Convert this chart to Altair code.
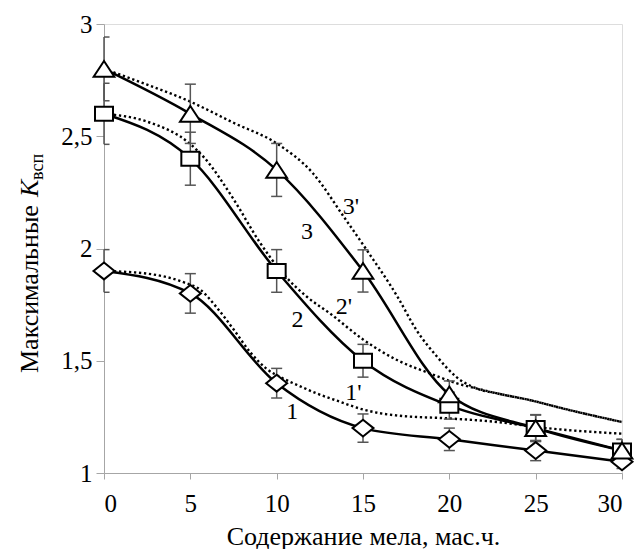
import altair as alt
import pandas as pd

# Chalk content, mass parts
chalk = [0, 5, 10, 15, 20, 25, 30]

# Measured maximal swelling coefficients and error half-widths
k1 = [1.9, 1.8, 1.4, 1.2, 1.15, 1.1, 1.05]
k2 = [2.6, 2.4, 1.9, 1.5, 1.3, 1.2, 1.1]
k3 = [2.8, 2.6, 2.35, 1.9, 1.35, 1.2, 1.1]
err1 = [0.095, 0.088, 0.066, 0.063, 0.05, 0.045, 0.03]
err2 = [0.136, 0.118, 0.095, 0.073, 0.06, 0.058, 0.05]
err3 = [0.142, 0.132, 0.118, 0.094, 0.06, 0.06, 0.05]

# Calculated curves 1', 2', 3'
calc1_x = [0, 2.5, 4.6, 5.6, 6.5, 7.5, 8.5, 9.4, 10.4, 11.4, 12.3, 13.5, 15, 16, 17, 20, 22.8, 25, 30]
calc1_y = [1.9, 1.888, 1.85, 1.815, 1.74, 1.64, 1.535, 1.465, 1.42, 1.385, 1.355, 1.322, 1.283, 1.266, 1.256, 1.243, 1.227, 1.205, 1.175]
calc2_x = [0, 2.5, 5, 5.8, 7.5, 9, 10.4, 11.75, 13.1, 15, 17, 18.9, 20.4, 21.6, 22.8, 24.7, 26.6, 30]
calc2_y = [2.6, 2.565, 2.465, 2.405, 2.22, 2.03, 1.885, 1.785, 1.71, 1.595, 1.502, 1.443, 1.40, 1.376, 1.354, 1.324, 1.287, 1.227]
calc3_x = [0, 2.5, 5, 7.5, 10, 12.1, 13.9, 15.2, 17, 18.1, 19.3, 20.4, 21.6, 22.8, 24.7, 26.6, 30]
calc3_y = [2.8, 2.73, 2.654, 2.56, 2.468, 2.335, 2.14, 1.995, 1.785, 1.636, 1.517, 1.428, 1.376, 1.354, 1.324, 1.287, 1.227]

# Curve labels
label_text = ["1", "1'", "2", "2'", "3", "3'"]
label_x = [10.9, 14.45, 11.2, 13.9, 11.75, 14.3]
label_y = [1.27, 1.355, 1.68, 1.74, 2.075, 2.185]

FONT = "Liberation Serif"
CAP_HALF = 0.32  # half-width of error-bar caps, in chalk units

meas = pd.DataFrame({
    "x": chalk * 3,
    "k": k1 + k2 + k3,
    "err": err1 + err2 + err3,
    "s": ["1"] * 7 + ["2"] * 7 + ["3"] * 7,
})

calc = pd.concat([
    pd.DataFrame({"x": calc1_x, "k": calc1_y, "s": "1'"}),
    pd.DataFrame({"x": calc2_x, "k": calc2_y, "s": "2'"}),
    pd.DataFrame({"x": calc3_x, "k": calc3_y, "s": "3'"}),
])

labels = pd.DataFrame({"t": label_text, "x": label_x, "k": label_y})

xs = alt.Scale(domain=[0, 30], nice=False, zero=False, clamp=True)
ys = alt.Scale(domain=[1, 3], nice=False, zero=False)

x_axis = alt.Axis(
    values=chalk, title="Содержание мела, мас.ч.", grid=False,
    domainColor="#a6a6a6", tickColor="#a6a6a6", tickSize=6,
    labelFont=FONT, labelFontSize=25, labelColor="black", labelPadding=12,
    titleFont=FONT, titleFontSize=26, titleFontWeight="normal", titleColor="black",
    titlePadding=7,
)
y_axis = alt.Axis(
    values=[1, 1.5, 2, 2.5, 3], title=None, grid=False,
    domainColor="#a6a6a6", tickColor="#a6a6a6", tickSize=8,
    labelFont=FONT, labelFontSize=25, labelColor="black", labelPadding=4,
    labelExpr="replace(format(datum.value, '~g'), '.', ',')",
)

base_m = alt.Chart(meas).transform_calculate(
    lo="datum.k - datum.err",
    hi="datum.k + datum.err",
    cx1=f"datum.x - {CAP_HALF}",
    cx2=f"datum.x + {CAP_HALF}",
)

calc_lines = alt.Chart(calc).mark_line(
    interpolate="monotone", color="black", strokeWidth=2.4,
    strokeDash=[2.3, 2.7], strokeCap="butt",
).encode(
    x=alt.X("x:Q", scale=xs, axis=x_axis),
    y=alt.Y("k:Q", scale=ys, axis=y_axis),
    detail="s:N",
)

ERR_COLOR = "#555555"
err_rules = base_m.mark_rule(color=ERR_COLOR, strokeWidth=1.5).encode(
    x="x:Q", y="lo:Q", y2="hi:Q"
)
err_lo = base_m.mark_rule(color=ERR_COLOR, strokeWidth=1.5).encode(
    x="cx1:Q", x2="cx2:Q", y="lo:Q"
)
err_hi = base_m.mark_rule(color=ERR_COLOR, strokeWidth=1.5).encode(
    x="cx1:Q", x2="cx2:Q", y="hi:Q"
)

meas_lines = alt.Chart(meas).mark_line(
    interpolate="monotone", color="black", strokeWidth=2.5
).encode(x="x:Q", y="k:Q", detail="s:N")

# Marker outlines: diamond, rectangle, triangle
shape_diamond = "M0,-0.8L1,0L0,0.8L-1,0Z"
shape_rect = "M-1,-0.78L1,-0.78L1,0.78L-1,0.78Z"
shape_tri = "M0,-0.76L1,0.76L-1,0.76Z"

def markers(series, shape, size):
    return alt.Chart(meas[meas["s"] == series]).mark_point(
        shape=shape, size=size, filled=True, fill="white",
        stroke="black", strokeWidth=2, opacity=1,
    ).encode(x="x:Q", y="k:Q")

pts1 = markers("1", shape_diamond, 441)
pts2 = markers("2", shape_rect, 324)
pts3 = markers("3", shape_tri, 428)

curve_labels = alt.Chart(labels).mark_text(
    font=FONT, fontSize=24, color="black", align="center", baseline="middle"
).encode(x="x:Q", y="k:Q", text="t:N")

# Y title assembled from plain, italic and subscript parts
one = pd.DataFrame({"v": [0]})
ytitle_main = alt.Chart(one).mark_text(
    text="Максимальные", font=FONT, fontSize=26, angle=270,
    align="left", baseline="alphabetic", color="black",
).encode(x=alt.value(-66), y=alt.value(349))
ytitle_k = alt.Chart(one).mark_text(
    text="K", font=FONT, fontSize=26, fontStyle="italic", angle=270,
    align="left", baseline="alphabetic", color="black",
).encode(x=alt.value(-66), y=alt.value(173))
ytitle_sub = alt.Chart(one).mark_text(
    text="всп", font=FONT, fontSize=18, angle=270,
    align="left", baseline="alphabetic", color="black",
).encode(x=alt.value(-61), y=alt.value(156))

chart = alt.layer(
    calc_lines, err_rules, err_lo, err_hi, meas_lines, pts1, pts2, pts3,
    curve_labels, ytitle_main, ytitle_k, ytitle_sub,
).properties(
    width=518, height=449,
    autosize=alt.AutoSizeParams(type="none"),
    padding={"left": 104, "top": 24, "right": 17, "bottom": 76},
).configure_view(stroke=None).configure(background="white")

chart.save("out.html", embed_options={"renderer": "svg", "actions": False})
